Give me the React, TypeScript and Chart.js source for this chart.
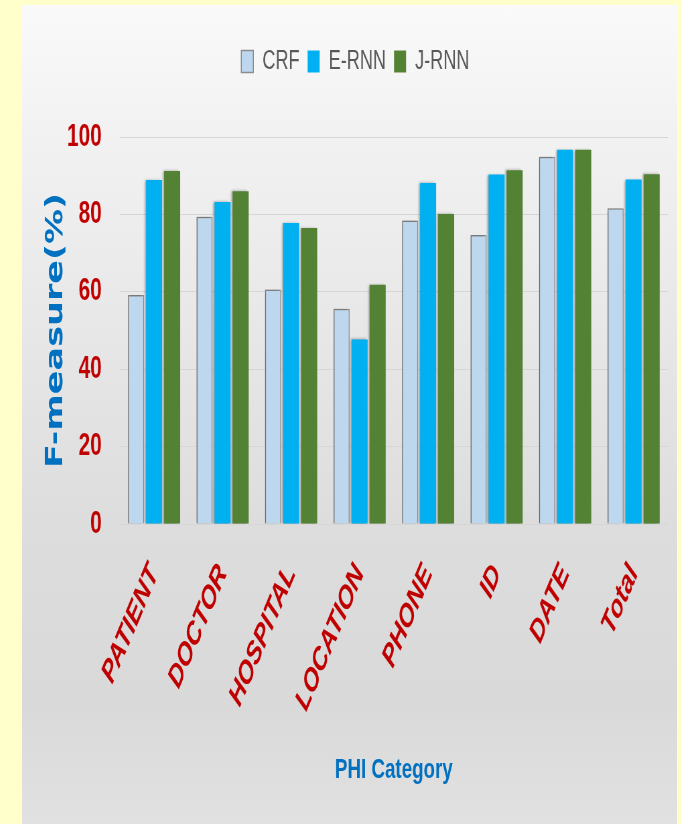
import React, { useEffect, useRef } from 'react';
import { Chart, registerables } from 'chart.js';

Chart.register(...registerables);

const categories = ['PATIENT', 'DOCTOR', 'HOSPITAL', 'LOCATION', 'PHONE', 'ID', 'DATE', 'Total'];
const seriesNames = ['CRF', 'E-RNN', 'J-RNN'];
const crfValues = [59.2, 79.4, 60.6, 55.6, 78.4, 74.7, 94.9, 81.6];
const ernnValues = [88.9, 83.2, 77.8, 47.7, 88.1, 90.3, 96.7, 89.0];
const jrnnValues = [91.2, 86.0, 76.5, 61.8, 80.1, 91.4, 96.7, 90.4];
const yTicks = [0, 20, 40, 60, 80, 100];

const SX = 0.67;
const PANEL_W = 655;
const PANEL_H = 819;
const CW = Math.round(PANEL_W / SX);
const LEGEND_EXTRA = 52;

const barShadow = {
  id: 'barShadow',
  beforeDatasetsDraw(chart: any) {
    const c = chart.ctx;
    c.save();
    c.shadowColor = 'rgba(0,0,0,0.35)';
    c.shadowBlur = 3;
    c.shadowOffsetX = -2;
    c.shadowOffsetY = 0;
  },
  afterDatasetsDraw(chart: any) {
    chart.ctx.restore();
  },
};

const legendMargin = {
  id: 'legendMargin',
  beforeInit(chart: any) {
    const legend = chart.legend;
    if (!legend) return;
    const orig = legend.fit;
    legend.fit = function () {
      orig.call(this);
      this.height += LEGEND_EXTRA;
    };
  },
};

export default function App() {
  const ref = useRef<HTMLCanvasElement>(null);

  useEffect(() => {
    const canvas = ref.current;
    if (!canvas) return;
    const chart = new Chart(canvas, {
      type: 'bar',
      data: {
        labels: categories,
        datasets: [
          {
            label: seriesNames[0],
            data: crfValues,
            backgroundColor: '#BDD7EE',
            borderColor: '#8C8C8C',
            borderWidth: 1.5,
            categoryPercentage: 0.79,
            barPercentage: 0.89,
          },
          {
            label: seriesNames[1],
            data: ernnValues,
            backgroundColor: '#00B0F0',
            borderWidth: 0,
            categoryPercentage: 0.79,
            barPercentage: 0.89,
          },
          {
            label: seriesNames[2],
            data: jrnnValues,
            backgroundColor: '#548235',
            borderWidth: 0,
            categoryPercentage: 0.79,
            barPercentage: 0.89,
          },
        ],
      },
      options: {
        animation: false,
        responsive: false,
        layout: { padding: { top: 31, left: 31, right: 14, bottom: 0 } },
        plugins: {
          legend: {
            position: 'top',
            labels: {
              boxWidth: 18,
              boxHeight: 22,
              padding: 12,
              color: '#595959',
              font: { family: 'Liberation Sans', size: 27 },
            },
          },
          tooltip: { enabled: false },
        },
        scales: {
          x: {
            grid: { display: false },
            border: { display: false },
            ticks: {
              color: '#C00000',
              font: { family: 'Liberation Sans', size: 32, weight: 'bold', style: 'italic' },
              maxRotation: 58,
              minRotation: 58,
              autoSkip: false,
              padding: 26,
            },
            title: {
              display: true,
              text: 'PHI Category',
              color: '#0070C0',
              font: { family: 'Liberation Sans', size: 28, weight: 'bold' },
              padding: { top: 0, bottom: 37 },
            },
            afterFit: (s: any) => {
              s.height = 300;
            },
          },
          y: {
            min: 0,
            max: 100,
            afterBuildTicks: (s: any) => {
              s.ticks = yTicks.map((v) => ({ value: v }));
            },
            grid: { color: '#D6D6D6', drawTicks: false },
            border: { display: false },
            ticks: {
              color: '#C00000',
              padding: 27,
              font: { family: 'Liberation Sans', size: 31, weight: 'bold' },
            },
            title: {
              display: true,
              text: 'F-measure(%)',
              color: '#0070C0',
              font: { family: 'DejaVu Sans', size: 35, weight: 'bold', lineHeight: 1 },
              padding: { top: 2, bottom: 0 },
            },
            afterFit: (s: any) => {
              s.width = 115;
            },
          },
        },
      },
      plugins: [barShadow, legendMargin],
    } as any);
    return () => chart.destroy();
  }, []);

  return (
    <div
      style={{
        position: 'fixed',
        left: 0,
        top: 0,
        width: 681,
        height: 824,
        background: '#FFFFCC',
        overflow: 'hidden',
      }}
    >
      <div
        style={{
          position: 'absolute',
          left: 22,
          top: 5,
          width: PANEL_W,
          height: PANEL_H,
          overflow: 'hidden',
          background:
            'linear-gradient(to bottom, #FAFAFA 0%, #F2F2F2 15%, #DDDDDD 63%, #D9D9D9 85%, #E1E1E1 100%)',
        }}
      >
        <div style={{ width: CW, height: PANEL_H, transform: `scaleX(${SX})`, transformOrigin: '0 0' }}>
          <canvas ref={ref} width={CW} height={PANEL_H} style={{ display: 'block', width: CW, height: PANEL_H }} />
        </div>
      </div>
    </div>
  );
}
